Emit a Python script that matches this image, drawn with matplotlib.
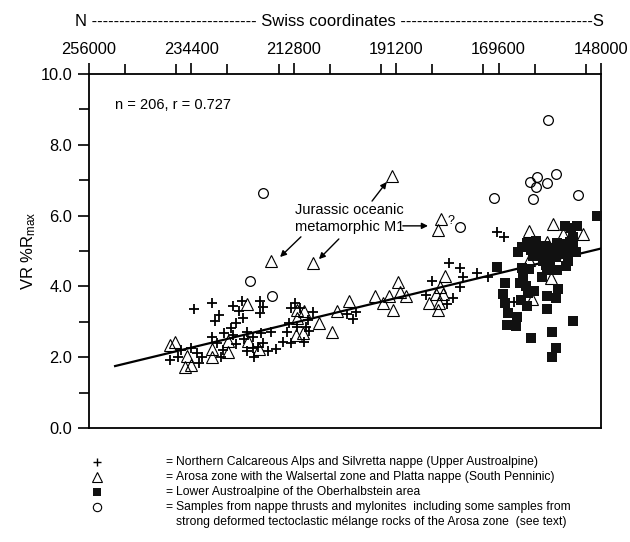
import numpy as np
import matplotlib
matplotlib.use("Agg")
import matplotlib.pyplot as plt
from matplotlib.lines import Line2D
from matplotlib.ticker import MultipleLocator

plt.rcParams['font.family'] = ['Liberation Sans', 'DejaVu Sans']
plt.rcParams['mathtext.fontset'] = 'custom'
plt.rcParams['mathtext.rm'] = 'Liberation Sans'
plt.rcParams['mathtext.it'] = 'Liberation Sans'

# Swiss coordinate (in km) and VR %Rmax
plus_x = [233.9, 230.1, 229.4, 228.6, 230.1, 238.9, 237.2, 236.6, 234.5, 233.2,
          232.2, 232.8, 225.6, 223.7, 224.4, 219.9, 219.3, 219.9, 223.5, 225.0,
          226.1, 227.5, 225.6, 222.7, 219.7, 217.6, 221.4, 223.3, 229.0, 225.0,
          219.3, 221.4, 222.7, 220.4, 218.2, 216.6, 221.2, 227.7, 228.2, 215.1,
          213.4, 210.7, 214.2, 209.6, 212.1, 210.2, 213.8, 209.8, 212.6, 213.4,
          208.8, 211.5, 201.6, 199.7, 200.3, 184.9, 183.7, 180.5, 180.1, 177.8,
          177.1, 174.2, 171.9, 177.8, 179.2, 170.0, 168.5, 166.4]
plus_y = [3.36, 3.53, 3.02, 3.19, 2.57, 1.92, 2.00, 2.20, 2.26, 2.12,
          2.00, 1.84, 3.45, 3.59, 3.31, 3.59, 3.42, 3.25, 3.11, 2.97,
          2.82, 2.68, 2.63, 2.71, 2.68, 2.71, 2.57, 2.51, 2.40, 2.37,
          2.40, 2.26, 2.18, 2.29, 2.18, 2.23, 2.00, 2.20, 2.00, 2.43,
          2.40, 2.43, 2.71, 2.74, 2.85, 2.85, 2.97, 3.05, 3.53, 3.39,
          3.28, 3.39, 3.22, 3.28, 3.08, 3.76, 4.15, 3.50, 4.66, 4.52,
          4.27, 4.38, 4.27, 3.98, 3.67, 5.54, 5.40, 3.56]

tri_x = [238.9, 237.9, 235.3, 235.8, 234.5, 230.1, 230.1, 226.7, 222.5, 226.7,
         222.7, 220.1, 212.3, 210.9, 207.5, 204.8, 212.1, 212.1, 210.7, 203.7,
         201.2, 217.6, 208.8, 192.1, 195.7, 194.0, 192.7, 190.8, 190.4, 189.1,
         191.9, 184.3, 182.8, 182.2, 181.3, 180.9, 182.0, 182.4, 181.8, 182.4,
         163.2, 158.1, 156.0, 151.8, 159.4, 163.2, 158.6, 162.6]
tri_y = [2.34, 2.43, 2.03, 1.72, 1.78, 2.23, 2.00, 2.46, 2.46, 2.15,
         3.50, 2.23, 2.63, 2.68, 2.97, 2.71, 3.11, 3.33, 3.31, 3.31,
         3.59, 4.72, 4.66, 7.12, 3.73, 3.53, 3.73, 4.12, 3.84, 3.73,
         3.33, 3.53, 3.79, 3.53, 3.79, 4.29, 3.98, 3.33, 5.90, 5.59,
         5.56, 5.76, 5.48, 5.48, 5.25, 4.75, 4.24, 3.64]

sq_x = [148.9, 155.6, 154.3, 153.1, 153.9, 161.7, 163.6, 164.7, 165.5, 162.8,
        161.3, 157.3, 158.1, 157.1, 155.8, 153.9, 153.3, 155.0, 155.5, 158.8,
        160.3, 158.8, 157.5, 155.0, 162.4, 159.6, 164.7, 163.2, 170.0, 159.4,
        157.3, 160.5, 164.5, 168.3, 165.1, 163.8, 168.7, 162.1, 163.4, 157.1,
        159.4, 157.5, 168.3, 164.9, 163.6, 159.4, 167.6, 165.7, 153.9, 167.8,
        166.0, 158.4, 162.8, 157.5, 158.4, 159.8, 156.2, 154.6, 160.7, 155.4]
sq_y = [5.99, 5.71, 5.65, 5.71, 5.40, 5.28, 5.23, 5.11, 4.97, 5.03,
        5.00, 5.23, 5.08, 5.03, 5.08, 5.11, 4.97, 4.94, 4.92, 4.89,
        4.72, 4.75, 4.83, 4.72, 4.86, 4.60, 4.52, 4.49, 4.55, 4.46,
        4.46, 4.27, 4.27, 4.10, 4.10, 4.01, 3.79, 3.87, 3.81, 3.93,
        3.73, 3.67, 3.53, 3.62, 3.45, 3.36, 3.25, 3.14, 3.02, 2.91,
        2.88, 2.71, 2.54, 2.26, 2.01, 5.14, 5.20, 5.25, 4.89, 4.58]

circ_x = [222.0, 217.4, 219.3, 177.8, 170.6, 163.0, 161.5, 161.7, 159.4, 157.5,
          162.4, 152.8, 159.2]
circ_y = [4.15, 3.73, 6.64, 5.68, 6.50, 6.95, 7.09, 6.81, 6.92, 7.18,
          6.47, 6.58, 8.70]

# regression line
fit_x = [250.5, 148.0]
fit_y = [1.75, 5.07]

x_ticks = [256000, 234400, 212800, 191200, 169600, 148000]
legend_labels = [
    "Northern Calcareous Alps and Silvretta nappe (Upper Austroalpine)",
    "Arosa zone with the Walsertal zone and Platta nappe (South Penninic)",
    "Lower Austroalpine of the Oberhalbstein area",
    "Samples from nappe thrusts and mylonites  including some samples from",
]
legend_extra = "strong deformed tectoclastic m\u00e9lange rocks of the Arosa zone  (see text)"

km = lambda v: np.asarray(v) * 1000

fig = plt.figure(figsize=(6.3, 5.42), dpi=100)
ax = fig.add_axes([0.1413, 0.2103, 0.8127, 0.6532])

ax.plot(km(fit_x), fit_y, color='black', lw=1.6, zorder=2)
ax.plot(km(plus_x), plus_y, ls='none', marker='+', ms=7, mew=1.3, color='black', zorder=3)
ax.plot(km(tri_x), tri_y, ls='none', marker='^', ms=8.5, mew=0.8, mfc='none', mec='black', zorder=3)
ax.plot(km(sq_x), sq_y, ls='none', marker='s', ms=6.5, mew=0, color='#111111', zorder=3)
ax.plot(km(circ_x), circ_y, ls='none', marker='o', ms=7, mew=0.9, mfc='none', mec='black', zorder=3)

ax.set_xlim(256000, 148000)
ax.set_ylim(0, 10)
ax.xaxis.tick_top()
ax.set_xticks(x_ticks)
ax.set_xticklabels([str(t) for t in x_ticks])
ax.xaxis.set_minor_locator(MultipleLocator(10800))
ax.yaxis.set_major_locator(MultipleLocator(2))
ax.yaxis.set_minor_locator(MultipleLocator(1))
ax.yaxis.set_major_formatter(matplotlib.ticker.FormatStrFormatter('%.1f'))
ax.tick_params(axis='both', which='major', direction='out', length=8, width=1.2,
               labelsize=11.8, pad=4)
ax.tick_params(axis='both', which='minor', direction='out', length=7, width=1.2)
ax.tick_params(axis='x', which='both', top=True, bottom=False)
for s in ax.spines.values():
    s.set_linewidth(1.3)

ax.set_ylabel(r"VR %R$_{\rm max}$", fontsize=12, labelpad=2)

fig.text(0.539, 0.961, "N " + "-" * 30 + " Swiss coordinates " + "-" * 35 + "S",
         ha='center', va='center', fontsize=12)

ax.text(250500, 9.12, "n = 206, r = 0.727", fontsize=10.5, va='center')
ax.text(212600, 5.92, "Jurassic oceanic\nmetamorphic M1", fontsize=10.5,
        va='center', ha='left', linespacing=1.25)
ax.text(179700, 5.85, "?", fontsize=9, va='center', ha='center')

arrows = [((211300, 5.40), (215700, 4.83)),
          ((203300, 5.34), (207500, 4.77)),
          ((196300, 6.41), (193200, 6.95)),
          ((189800, 5.71), (184500, 5.71))]
for tail, head in arrows:
    ax.annotate("", xy=head, xytext=tail,
                arrowprops=dict(arrowstyle='-|>', lw=1.0, color='black',
                                mutation_scale=9, shrinkA=0, shrinkB=0))

# legend block below the plot
rows_y = [0.1476, 0.1199, 0.0923, 0.0646]
styles = [dict(marker='+', ms=6, mew=1.0, color='black'),
          dict(marker='^', ms=7, mew=0.8, mfc='none', mec='black'),
          dict(marker='s', ms=5.5, mew=0, color='#111111'),
          dict(marker='o', ms=6, mew=0.8, mfc='none', mec='black')]
for yy, st, lab in zip(rows_y, styles, legend_labels):
    fig.add_artist(Line2D([0.154], [yy], ls='none', transform=fig.transFigure, **st))
    fig.text(0.262, yy, "=", fontsize=8.7, va='center', ha='left')
    fig.text(0.279, yy, lab, fontsize=8.7, va='center', ha='left')
fig.text(0.279, 0.0369, legend_extra, fontsize=8.7, va='center', ha='left')

fig.savefig("out.png", dpi=100)
